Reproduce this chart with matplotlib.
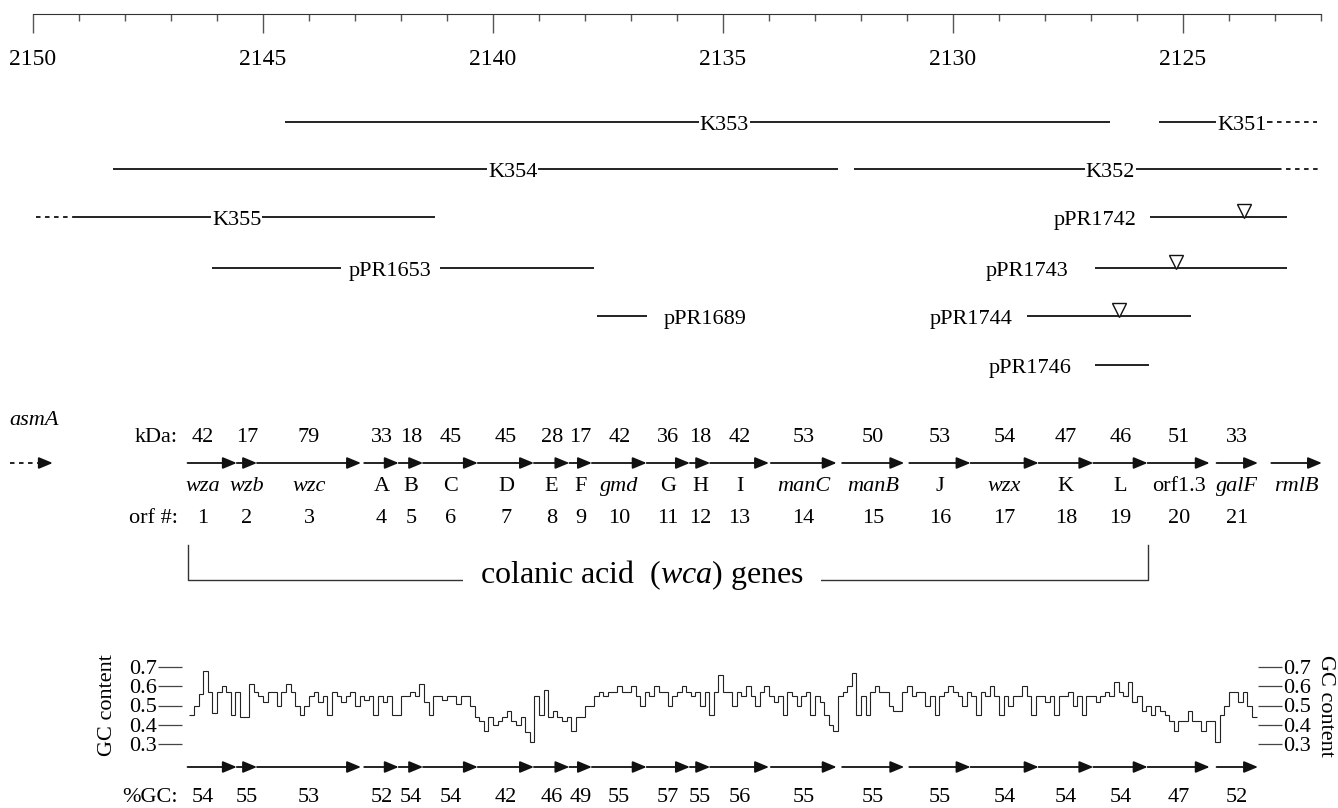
import numpy as np
import matplotlib.pyplot as plt

plt.rcParams['font.family'] = ['Liberation Serif', 'DejaVu Serif']
plt.rcParams['mathtext.fontset'] = 'custom'
plt.rcParams['mathtext.rm'] = 'Liberation Serif'
plt.rcParams['mathtext.it'] = 'Liberation Serif:italic'

# ---- data (map positions in kb, the map runs right to left) ----
ruler_major = [2150, 2145, 2140, 2135, 2130, 2125]
ruler_first, ruler_last = 2122, 2150

clone_names = ['K353', 'K351', 'K354', 'K352', 'K355', 'pPR1653', 'pPR1689',
               'pPR1742', 'pPR1743', 'pPR1744', 'pPR1746']
clone_from = [2144.52, 2125.53, 2148.26, 2132.15, 2149.12, 2146.10, 2137.74,
              2125.72, 2126.91, 2128.39, 2126.91]
clone_to = [2126.58, 2123.15, 2132.51, 2122.96, 2141.26, 2137.80, 2136.65,
            2122.74, 2122.74, 2124.83, 2125.74]
clone_label_at = [2134.97, 2123.72, 2139.57, 2126.58, 2145.57, 2142.23, 2136.30,
                  2126.00, 2127.48, 2128.70, 2127.43]

# dashed (uncertain) clone ends
dash_from = [2123.15, 2122.96, 2149.93]
dash_to = [2122.09, 2122.00, 2149.12]

# insertion sites (open triangles)
insert_clones = ['pPR1742', 'pPR1743', 'pPR1744']
insert_at = [2123.67, 2125.15, 2126.39]

genes = ['wza', 'wzb', 'wzc', 'A', 'B', 'C', 'D', 'E', 'F', 'gmd', 'G', 'H', 'I',
         'manC', 'manB', 'J', 'wzx', 'K', 'L', 'orf1.3', 'galF', 'rmlB']
gene_italic = [True, True, True, False, False, False, False, False, False, True,
               False, False, False, True, True, False, True, False, False, False,
               True, True]
gene_start = [2146.64, 2145.57, 2145.13, 2142.80, 2142.05, 2141.52, 2140.33,
              2139.11, 2138.34, 2137.85, 2136.66, 2135.72, 2135.28, 2133.96,
              2132.41, 2130.95, 2129.62, 2128.14, 2126.95, 2125.77, 2124.27,
              2123.08]
gene_end = [2145.57, 2145.13, 2142.87, 2142.05, 2141.52, 2140.33, 2139.11,
            2138.34, 2137.85, 2136.66, 2135.72, 2135.28, 2134.00, 2132.53,
            2131.06, 2129.62, 2128.14, 2126.95, 2125.77, 2124.42, 2123.37,
            2121.98]
kda = [42, 17, 79, 33, 18, 45, 45, 28, 17, 42, 36, 18, 42, 53, 50, 53, 54, 47,
       46, 51, 33]
orf_no = list(range(1, 22))
pct_gc = [54, 55, 53, 52, 54, 54, 42, 46, 49, 55, 57, 55, 56, 55, 55, 55, 54,
          54, 54, 47, 52]

asmA_from, asmA_to = 2150.50, 2149.57

# sliding-window GC content, 0.1 kb windows starting at 2146.6 kb
gc_start, gc_step = 2146.6, 0.1
gc_values = [
    0.45, 0.50, 0.56, 0.68, 0.57, 0.46, 0.57, 0.60, 0.57, 0.45,
    0.57, 0.44, 0.44, 0.61, 0.57, 0.55, 0.52, 0.57, 0.57, 0.50,
    0.57, 0.61, 0.57, 0.50, 0.45, 0.50, 0.55, 0.57, 0.52, 0.55,
    0.45, 0.57, 0.55, 0.52, 0.55, 0.57, 0.50, 0.55, 0.53, 0.55,
    0.45, 0.55, 0.52, 0.55, 0.45, 0.45, 0.55, 0.55, 0.57, 0.55,
    0.61, 0.52, 0.45, 0.55, 0.55, 0.53, 0.55, 0.55, 0.51, 0.55,
    0.55, 0.50, 0.44, 0.42, 0.37, 0.44, 0.40, 0.42, 0.44, 0.47,
    0.42, 0.40, 0.44, 0.36, 0.31, 0.55, 0.45, 0.58, 0.44, 0.47,
    0.44, 0.42, 0.44, 0.37, 0.44, 0.44, 0.50, 0.50, 0.55, 0.57,
    0.55, 0.57, 0.57, 0.60, 0.57, 0.57, 0.60, 0.55, 0.50, 0.57,
    0.55, 0.60, 0.57, 0.57, 0.50, 0.55, 0.57, 0.60, 0.57, 0.55,
    0.57, 0.50, 0.57, 0.45, 0.57, 0.66, 0.57, 0.57, 0.50, 0.57,
    0.55, 0.60, 0.55, 0.50, 0.57, 0.60, 0.55, 0.52, 0.55, 0.45,
    0.57, 0.55, 0.50, 0.55, 0.57, 0.45, 0.55, 0.52, 0.45, 0.40,
    0.37, 0.55, 0.57, 0.60, 0.67, 0.45, 0.55, 0.45, 0.57, 0.60,
    0.57, 0.57, 0.50, 0.47, 0.47, 0.57, 0.60, 0.55, 0.57, 0.57,
    0.50, 0.55, 0.45, 0.55, 0.57, 0.60, 0.57, 0.55, 0.50, 0.57,
    0.55, 0.45, 0.57, 0.55, 0.60, 0.55, 0.45, 0.55, 0.50, 0.55,
    0.55, 0.60, 0.55, 0.45, 0.55, 0.55, 0.52, 0.55, 0.45, 0.55,
    0.55, 0.57, 0.50, 0.55, 0.45, 0.55, 0.55, 0.52, 0.55, 0.57,
    0.55, 0.62, 0.57, 0.55, 0.62, 0.52, 0.55, 0.47, 0.50, 0.45,
    0.50, 0.47, 0.45, 0.42, 0.37, 0.42, 0.42, 0.47, 0.42, 0.42,
    0.37, 0.42, 0.42, 0.31, 0.45, 0.50, 0.57, 0.57, 0.52, 0.57,
    0.50, 0.44,
]
gc_ticks = [0.3, 0.4, 0.5, 0.6, 0.7]

# ---- layout (figure pixels) ----
W, H = 1338, 808
PX_PER_KB = 46.0
KB_LEFT = 2150 + 33 / PX_PER_KB


def kb_at(px):
    return KB_LEFT - px / PX_PER_KB


INK = '#111111'
FS = 16
clone_row = [122, 122, 169, 169, 217, 268, 316, 217, 268, 316, 365]
clone_style = ['mid', 'mid', 'mid', 'mid', 'mid', 'gap', 'left',
               'right', 'right', 'right', 'right']
dash_row = [122, 169, 217]
y_arrow, y_kda, y_name, y_orf = 463, 442, 491, 523
y_asmA = 425
y_brk_top, y_brk = 545, 580
y_gc_top, y_gc_bot = 667, 744
y_gc_arrow, y_pct = 767, 802
gc_left_px, gc_right_px = 182, 1258
label_nudge = {0: 0.2}   # gene index -> shift of its labels (kb, toward the left)

fig = plt.figure(figsize=(W / 100, H / 100), dpi=100)
ax = fig.add_axes([0, 0, 1, 1])
ax.set_xlim(kb_at(0), kb_at(W))
ax.set_ylim(H, 0)
ax.axis('off')

# ruler
ax_r = fig.add_axes([0, 1 - 14 / H, 1, 6 / H])
ax_r.set_xlim(ax.get_xlim())
ax_r.patch.set_visible(False)
for s in ['top', 'left', 'right']:
    ax_r.spines[s].set_visible(False)
ax_r.spines['bottom'].set_bounds(ruler_first, ruler_last)
ax_r.spines['bottom'].set_color('#333333')
ax_r.set_yticks([])
ax_r.set_xticks(ruler_major)
ax_r.set_xticks(np.arange(ruler_first, ruler_last + 1), minor=True)
ax_r.tick_params(axis='x', which='major', length=14, width=1, color='#555555',
                 pad=11, labelsize=FS + 1)
ax_r.tick_params(axis='x', which='minor', length=5, width=1, color='#555555')

# clones
for name, a, b, lab, y, st in zip(clone_names, clone_from, clone_to,
                                  clone_label_at, clone_row, clone_style):
    ax.plot([a, b], [y, y], color=INK, lw=1.3, solid_capstyle='butt')
    if st in ('mid', 'gap'):
        ax.text(lab, y + 8, name, ha='center', va='baseline', fontsize=FS,
                bbox=dict(fc='white', ec='none', pad=0.6 if st == 'mid' else 6))
    else:
        ax.text(lab, y + 8, name, ha=st, va='baseline', fontsize=FS)

for a, b, y in zip(dash_from, dash_to, dash_row):
    ax.plot([a, b], [y, y], color=INK, lw=1.3, ls=(0, (2.5, 2.5)))

for name, x in zip(insert_clones, insert_at):
    y = clone_row[clone_names.index(name)]
    ax.plot([x], [y - 6], marker='v', ms=10, mfc='white', mec=INK, mew=1)


def gene_arrow(a, b, y, ls='-'):
    ax.annotate('', xy=(b, y), xytext=(a, y),
                arrowprops=dict(arrowstyle='-|>,head_length=0.6,head_width=0.25',
                                lw=1.3, color=INK, shrinkA=0, shrinkB=0,
                                mutation_scale=14, linestyle=ls))


# asmA (upstream, dashed)
ax.text(asmA_from + 0.02, y_asmA, 'asmA', ha='left', va='baseline',
        fontsize=FS, style='italic')
mid_asm = asmA_to + 0.25
ax.plot([asmA_from, mid_asm], [y_arrow, y_arrow], color=INK, lw=1.3,
        ls=(0, (2.5, 2.5)))
gene_arrow(mid_asm, asmA_to, y_arrow)

# gene map
for i, g in enumerate(genes):
    a, b = gene_start[i], gene_end[i]
    m = (a + b) / 2 + label_nudge.get(i, 0)
    gene_arrow(a, b, y_arrow)
    ax.text(m, y_name, g, ha='center', va='baseline', fontsize=FS,
            style='italic' if gene_italic[i] else 'normal')
    if i < len(kda):
        ax.text(m, y_kda, str(kda[i]), ha='center', va='baseline', fontsize=FS)
        ax.text(m, y_orf, str(orf_no[i]), ha='center', va='baseline', fontsize=FS)
        gene_arrow(a, b, y_gc_arrow)
        ax.text(m, y_pct, str(pct_gc[i]), ha='center', va='baseline', fontsize=FS)

lab_x = kb_at(178)
ax.text(lab_x, y_kda, 'kDa:', ha='right', va='baseline', fontsize=FS)
ax.text(lab_x, y_orf, 'orf #:', ha='right', va='baseline', fontsize=FS)
ax.text(lab_x, y_pct, '%GC:', ha='right', va='baseline', fontsize=FS)

# colanic acid bracket (wza .. L)
b0, b1 = gene_start[0], gene_end[18]
ax.plot([b0, b0, b1, b1], [y_brk_top, y_brk, y_brk, y_brk_top], color='#333333',
        lw=1.0)
ax.text(kb_at(642), y_brk + 3, r'colanic acid  $(wca)$ genes', ha='center',
        va='baseline', fontsize=23,
        bbox=dict(fc='white', ec='none', pad=12))

# GC content panel
ax_g = fig.add_axes([gc_left_px / W, 1 - y_gc_bot / H,
                     (gc_right_px - gc_left_px) / W, (y_gc_bot - y_gc_top) / H])
ax_g.set_xlim(kb_at(gc_left_px), kb_at(gc_right_px))
ax_g.set_ylim(0.3, 0.7)
ax_g.patch.set_visible(False)
for s in ax_g.spines.values():
    s.set_visible(False)
ax_g.set_xticks([])
ax_g.set_yticks(gc_ticks)
ax_g.set_yticklabels([f'{t:.1f}' for t in gc_ticks])
ax_g.tick_params(axis='y', left=True, right=True, labelleft=True,
                 labelright=True, length=17, width=0.9, color='#444444',
                 pad=1, labelsize=16)
edges = gc_start - gc_step * np.arange(len(gc_values) + 1)
ax_g.stairs(np.array(gc_values)[::-1], edges[::-1], baseline=None,
            color='#222222', lw=0.8, clip_on=False)

y_gc_mid = (y_gc_top + y_gc_bot) / 2
ax.text(kb_at(108), y_gc_mid, 'GC content', rotation=90, ha='center',
        va='center', fontsize=FS)
ax.text(kb_at(1326), y_gc_mid, 'GC content', rotation=-90, ha='center',
        va='center', fontsize=FS)

fig.savefig('out.png', dpi=100, facecolor='white')
